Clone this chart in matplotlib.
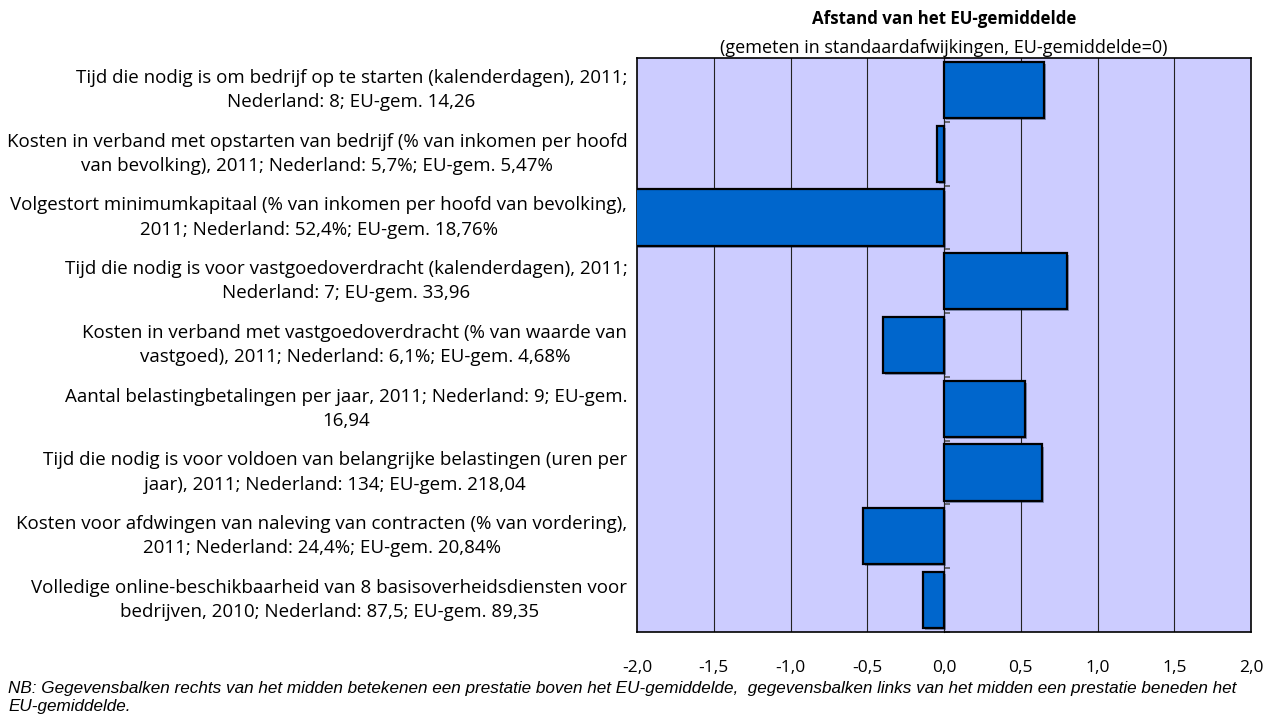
import matplotlib
matplotlib.use('Agg')
import matplotlib.pyplot as plt
import matplotlib.patheffects as pe
import numpy as np

# indicators, top to bottom
labels = [
    'Tijd die nodig is om bedrijf op te starten (kalenderdagen), 2011;\nNederland: 8; EU-gem. 14,26',
    'Kosten in verband met opstarten van bedrijf (% van inkomen per hoofd\nvan bevolking), 2011; Nederland: 5,7%; EU-gem. 5,47%',
    'Volgestort minimumkapitaal (% van inkomen per hoofd van bevolking),\n2011; Nederland: 52,4%; EU-gem. 18,76%',
    'Tijd die nodig is voor vastgoedoverdracht (kalenderdagen), 2011;\nNederland: 7; EU-gem. 33,96',
    'Kosten in verband met vastgoedoverdracht (% van waarde van\nvastgoed), 2011; Nederland: 6,1%; EU-gem. 4,68%',
    'Aantal belastingbetalingen per jaar, 2011; Nederland: 9; EU-gem.\n16,94',
    'Tijd die nodig is voor voldoen van belangrijke belastingen (uren per\njaar), 2011; Nederland: 134; EU-gem. 218,04',
    'Kosten voor afdwingen van naleving van contracten (% van vordering),\n2011; Nederland: 24,4%; EU-gem. 20,84%',
    'Volledige online-beschikbaarheid van 8 basisoverheidsdiensten voor\nbedrijven, 2010; Nederland: 87,5; EU-gem. 89,35',
]
# distance from EU average in standard deviations
values = [0.65, -0.045, -2.35, 0.80, -0.40, 0.53, 0.64, -0.53, -0.14]

xticks = [-2.0, -1.5, -1.0, -0.5, 0.0, 0.5, 1.0, 1.5, 2.0]
xticklabels = ['-2,0', '-1,5', '-1,0', '-0,5', '0,0', '0,5', '1,0', '1,5', '2,0']

title = 'Afstand van het EU-gemiddelde'
subtitle = '(gemeten in standaardafwijkingen, EU-gemiddelde=0)'
note = ('NB: Gegevensbalken rechts van het midden betekenen een prestatie boven het EU-gemiddelde,  '
        'gegevensbalken links van het midden een prestatie beneden het\nEU-gemiddelde.')

plt.rcParams['font.family'] = ['Open Sans', 'DejaVu Sans']

fig = plt.figure(figsize=(12.71, 7.16), dpi=100)
ax = fig.add_axes([637 / 1271, 84 / 716, 614 / 1271, 574 / 716])
ax.set_facecolor('#CCCCFF')

y = np.arange(len(labels))
bars = ax.barh(y, values, height=0.88, color='#0066CC', edgecolor='black',
               linewidth=1.6, zorder=3)
for b in bars:
    b.set_path_effects([pe.SimplePatchShadow(offset=(1.5, -1.5), alpha=0.35), pe.Normal()])

ax.set_xlim(-2, 2)
ax.set_ylim(len(labels) - 0.5, -0.5)
ax.set_xticks(xticks)
ax.set_xticklabels(xticklabels, fontsize=12.5)
ax.tick_params(axis='x', length=0, pad=20)
ax.set_yticks(y)
ax.set_yticklabels(labels, fontsize=13.5, ha='right', va='center',
                   multialignment='center', linespacing=1.45)
ax.tick_params(axis='y', length=0, pad=7)

for xv in xticks[1:-1]:
    ax.axvline(xv, color='#222222', linewidth=0.8, zorder=1)

for s in ax.spines.values():
    s.set_linewidth(1.2)
    s.set_color('black')

# vertical axis crossing at zero, with small tick marks between categories
sec = ax.secondary_yaxis(0.5)
sec.set_yticks(np.arange(len(labels) + 1) - 0.5)
sec.set_yticklabels([])
sec.tick_params(length=4, width=1.2, color='#555555')
sec.spines['left'].set_color('#777777')

fig.text(944 / 1271, 1 - 19 / 716, title, ha='center', va='center',
         fontsize=12.2, fontweight='bold')
fig.text(944 / 1271, 1 - 48 / 716, subtitle, ha='center', va='center', fontsize=13)

fig.text(8 / 1271, 1 - 697 / 716, note, ha='left', va='center', fontsize=12.3,
         style='italic', family='Liberation Sans', linespacing=1.25)

fig.savefig('out.png', dpi=100)
